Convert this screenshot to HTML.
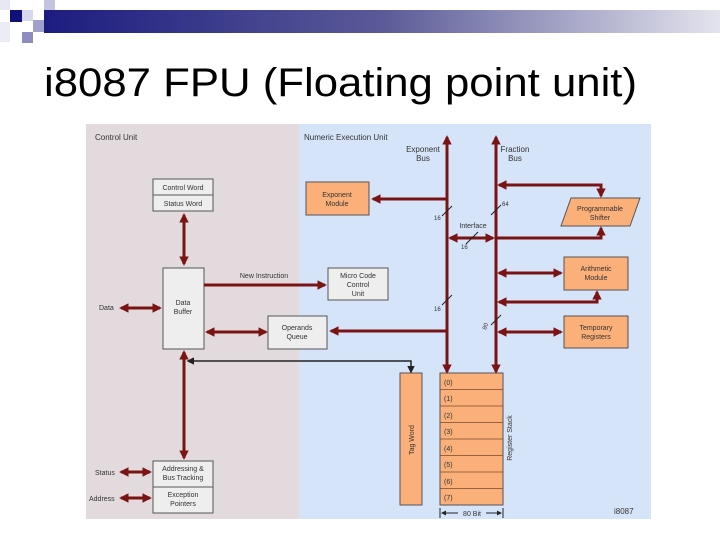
<!DOCTYPE html>
<html><head><meta charset="utf-8"><style>
html,body{margin:0;padding:0;background:#fff;width:720px;height:540px;overflow:hidden}
svg{display:block}
text{font-family:"Liberation Sans",sans-serif}
</style></head><body>
<svg width="720" height="540" viewBox="0 0 720 540" xmlns="http://www.w3.org/2000/svg">
<defs>
<linearGradient id="g" x1="0" x2="1" y1="0" y2="0">
<stop offset="0" stop-color="#1c1c80"/><stop offset="0.5" stop-color="#5a5a98"/><stop offset="1" stop-color="#e4e4ee"/>
</linearGradient>
<marker id="a" viewBox="0 0 10 10" refX="8" refY="5" markerWidth="3.2" markerHeight="3.2" orient="auto-start-reverse"><path d="M0,0 L10,5 L0,10 z" fill="#7a1414"/></marker>
<marker id="b" viewBox="0 0 10 10" refX="8" refY="5" markerWidth="5" markerHeight="5" orient="auto-start-reverse"><path d="M0,0 L10,5 L0,10 z" fill="#222"/></marker>
</defs>
<rect x="44" y="10" width="676" height="23" fill="url(#g)"/>
<rect x="0" y="0" width="10" height="10" fill="#e8e8f4"/>
<rect x="10" y="10" width="12" height="12" fill="#10107a"/>
<rect x="22" y="10" width="11" height="11" fill="#d8d8ec"/>
<rect x="44" y="0" width="11" height="10" fill="#c4c4e0"/>
<rect x="33" y="20" width="11" height="12" fill="#a0a0cc"/>
<rect x="22" y="32" width="11" height="11" fill="#8c8cc0"/>
<rect x="0" y="22" width="10" height="20" fill="#ececf6"/>
<text x="44" y="96" font-size="40" fill="#000" textLength="593" lengthAdjust="spacingAndGlyphs">i8087 FPU (Floating point unit)</text>

<rect x="86" y="124" width="213" height="395" fill="#e3dadd"/>
<rect x="299" y="124" width="352" height="395" fill="#d6e4f9"/>
<g font-size="8" fill="#333">
<text x="95" y="140">Control Unit</text>
<text x="304" y="140">Numeric Execution Unit</text>
<text x="423" y="152" text-anchor="middle">Exponent</text><text x="423" y="161" text-anchor="middle">Bus</text>
<text x="515" y="152" text-anchor="middle">Fraction</text><text x="515" y="161" text-anchor="middle">Bus</text>
</g>
<g stroke="#555" stroke-width="1">
<rect x="153" y="179" width="60" height="32" fill="#eee"/><line x1="153" y1="195" x2="213" y2="195"/>
<rect x="163" y="268" width="41" height="81" fill="#eee"/>
<rect x="306" y="182" width="63" height="33" fill="#fbb07a"/>
<rect x="328" y="268" width="60" height="32" fill="#eee"/>
<rect x="268" y="316" width="59" height="33" fill="#eee"/>
<polygon points="571,198 640,198 630,226 561,226" fill="#fbb07a"/>
<rect x="564" y="257" width="64" height="33" fill="#fbb07a"/>
<rect x="564" y="316" width="64" height="32" fill="#fbb07a"/>
<rect x="400" y="373" width="22" height="132" fill="#fbb07a"/>
<rect x="440" y="373" width="63" height="132" fill="#fbb07a"/>
<rect x="153" y="461" width="60" height="52" fill="#eee"/><line x1="153" y1="487" x2="213" y2="487"/>
</g>
<g stroke="#7a4a2a" stroke-width="0.8">
<line x1="440" y1="389.5" x2="503" y2="389.5"/><line x1="440" y1="406" x2="503" y2="406"/>
<line x1="440" y1="422.5" x2="503" y2="422.5"/><line x1="440" y1="439" x2="503" y2="439"/>
<line x1="440" y1="455.5" x2="503" y2="455.5"/><line x1="440" y1="472" x2="503" y2="472"/>
<line x1="440" y1="488.5" x2="503" y2="488.5"/>
</g>
<g font-size="7" fill="#333" text-anchor="middle">
<text x="183" y="190">Control Word</text><text x="183" y="206">Status Word</text>
<text x="183" y="305">Data</text><text x="183" y="314">Buffer</text>
<text x="337" y="197">Exponent</text><text x="337" y="206">Module</text>
<text x="358" y="278">Micro Code</text><text x="358" y="287">Control</text><text x="358" y="296">Unit</text>
<text x="297" y="330">Operands</text><text x="297" y="339">Queue</text>
<text x="600" y="211">Programmable</text><text x="600" y="220">Shifter</text>
<text x="596" y="271">Arithmetic</text><text x="596" y="280">Module</text>
<text x="596" y="330">Temporary</text><text x="596" y="339">Registers</text>
<text x="183" y="471">Addressing &amp;</text><text x="183" y="480">Bus Tracking</text>
<text x="183" y="497">Exception</text><text x="183" y="506">Pointers</text>
<text x="264" y="278">New Instruction</text>
<text x="473" y="228">Interface</text>
<text x="472" y="516">80 Bit</text>
</g>
<g font-size="7" fill="#333">
<text x="99" y="310">Data</text><text x="95" y="475">Status</text><text x="89" y="501">Address</text>
<text x="444" y="385">(0)</text><text x="444" y="401">(1)</text><text x="444" y="418">(2)</text><text x="444" y="434">(3)</text>
<text x="444" y="451">(4)</text><text x="444" y="467">(5)</text><text x="444" y="484">(6)</text><text x="444" y="500">(7)</text>
<text x="434" y="220" font-size="6">16</text><text x="502" y="206" font-size="6">64</text>
<text x="461" y="249" font-size="6">16</text><text x="434" y="311" font-size="6">16</text>
<text x="614" y="514" font-size="8">i8087</text>
<text transform="translate(414,440) rotate(-90)" text-anchor="middle">Tag Word</text>
<text transform="translate(512,438) rotate(-90)" text-anchor="middle">Register Stack</text>
<text transform="translate(486,330) rotate(-70)" font-size="6">80</text>
</g>
<g stroke="#7a1414" stroke-width="3" fill="none">
<line x1="184" y1="215" x2="184" y2="264" marker-start="url(#a)" marker-end="url(#a)"/>
<line x1="121" y1="308" x2="160" y2="308" marker-start="url(#a)" marker-end="url(#a)"/>
<line x1="204" y1="285" x2="325" y2="285" marker-end="url(#a)"/>
<line x1="207" y1="332" x2="266" y2="332" marker-start="url(#a)" marker-end="url(#a)"/>
<polyline points="447,331 331,331" marker-end="url(#a)"/>
<line x1="447" y1="372" x2="447" y2="137" marker-end="url(#a)"/>
<line x1="496" y1="372" x2="496" y2="137" marker-end="url(#a)"/>
<line x1="447" y1="360" x2="447" y2="372" marker-end="url(#a)"/>
<line x1="496" y1="360" x2="496" y2="372" marker-end="url(#a)"/>
<line x1="447" y1="199" x2="373" y2="199" marker-end="url(#a)"/>
<polyline points="499,185 601,185 601,196" marker-start="url(#a)" marker-end="url(#a)"/>
<polyline points="496,238 601,238 601,228" marker-end="url(#a)"/>
<line x1="450" y1="238" x2="493" y2="238" marker-start="url(#a)" marker-end="url(#a)"/>
<line x1="499" y1="273" x2="561" y2="273" marker-start="url(#a)" marker-end="url(#a)"/>
<polyline points="499,302 597,302 597,292" marker-start="url(#a)" marker-end="url(#a)"/>
<line x1="499" y1="332" x2="561" y2="332" marker-start="url(#a)" marker-end="url(#a)"/>
<line x1="184" y1="352" x2="184" y2="458" marker-start="url(#a)" marker-end="url(#a)"/>
<line x1="121" y1="472" x2="150" y2="472" marker-start="url(#a)" marker-end="url(#a)"/>
<line x1="121" y1="498" x2="150" y2="498" marker-start="url(#a)" marker-end="url(#a)"/>
</g>
<polyline points="188,361 411,361 411,372" stroke="#222" stroke-width="1.5" fill="none" marker-start="url(#b)" marker-end="url(#b)"/>
<g stroke="#222" stroke-width="1">
<line x1="440" y1="508" x2="440" y2="518"/><line x1="503" y1="508" x2="503" y2="518"/>
<line x1="442" y1="513" x2="458" y2="513" marker-start="url(#b)"/><line x1="486" y1="513" x2="501" y2="513" marker-end="url(#b)"/>
<line x1="442" y1="216" x2="452" y2="206"/><line x1="491" y1="215" x2="501" y2="205"/>
<line x1="466" y1="244" x2="478" y2="232"/><line x1="442" y1="305" x2="452" y2="295"/>
<line x1="491" y1="325" x2="501" y2="315"/>
</g>
</svg>
</body></html>
